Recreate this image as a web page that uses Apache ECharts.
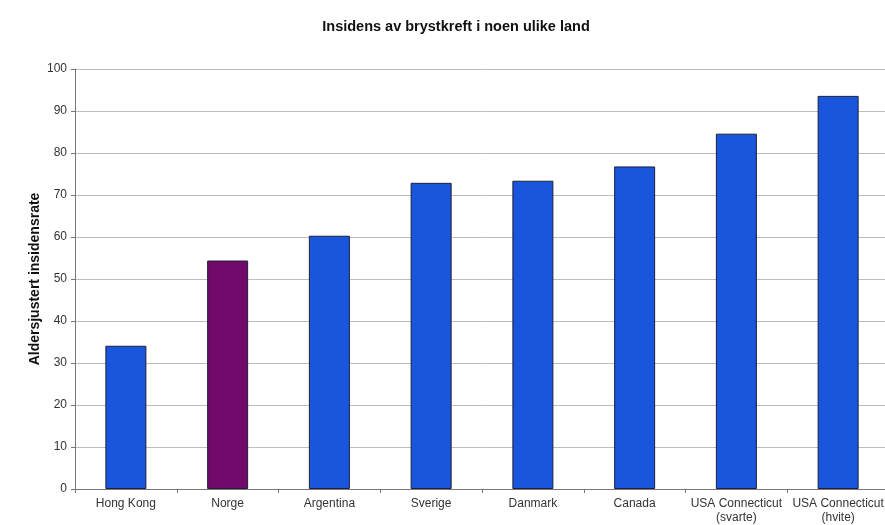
<!DOCTYPE html>
<html>
<head>
<meta charset="utf-8">
<script src="https://cdn.jsdelivr.net/npm/echarts@6/dist/echarts.min.js"></script>
<style>
  html, body { margin: 0; padding: 0; background: #fff; }
  #chart { width: 885px; height: 525px; }
</style>
</head>
<body>
<div id="chart"></div>
<script>
// Breast cancer incidence (age-adjusted) by country
const categories = [
  'Hong Kong', 'Norge', 'Argentina', 'Sverige', 'Danmark', 'Canada',
  'USA Connecticut\n(svarte)', 'USA Connecticut\n(hvite)'
];
const rates = [34.1, 54.4, 60.3, 72.9, 73.4, 76.8, 84.6, 93.6];
const highlighted = 'Norge';
const yTicks = { min: 0, max: 100, interval: 10 };

const blue = '#1a56dc';
const purple = '#720a6c';
const font = 'Liberation Sans, Arial, sans-serif';

const chart = echarts.init(document.getElementById('chart'), null, { renderer: 'canvas' });
chart.setOption({
  backgroundColor: '#ffffff',
  animation: false,
  title: {
    text: 'Insidens av brystkreft i noen ulike land',
    left: 451,
    top: 14,
    textAlign: 'center',
    textStyle: { fontFamily: font, fontSize: 14.5, fontWeight: 'bold', color: '#111' }
  },
  grid: {
    left: 75, top: 69, width: 814, height: 420,
    containLabel: false,
    outerBoundsMode: 'none'
  },
  xAxis: {
    type: 'category',
    data: categories,
    axisLine: { lineStyle: { color: '#777', width: 1 } },
    axisTick: { show: true, alignWithLabel: false, length: 4, lineStyle: { color: '#777' } },
    axisLabel: {
      interval: 0, margin: 8, color: '#333', lineHeight: 14,
      fontFamily: font, fontSize: 12
    },
    splitLine: { show: false }
  },
  yAxis: {
    type: 'value',
    min: yTicks.min, max: yTicks.max, interval: yTicks.interval,
    name: 'Aldersjustert insidensrate',
    nameLocation: 'middle',
    nameGap: 33,
    nameMoveOverlap: false,
    nameTextStyle: { fontFamily: font, fontSize: 14, fontWeight: 'bold', color: '#111' },
    axisLine: { show: true, lineStyle: { color: '#777', width: 1 } },
    axisTick: { show: true, length: 4, lineStyle: { color: '#777' } },
    axisLabel: { margin: 8, color: '#333', fontFamily: font, fontSize: 12 },
    splitLine: { show: true, lineStyle: { color: '#bdbdbd', width: 1 } }
  },
  series: [{
    type: 'bar',
    barWidth: 41,
    data: rates.map((v, i) => ({
      value: v,
      itemStyle: { color: categories[i] === highlighted ? purple : blue }
    })),
    itemStyle: { borderColor: '#1b1f3c', borderWidth: 1 }
  }]
});
</script>
</body>
</html>
